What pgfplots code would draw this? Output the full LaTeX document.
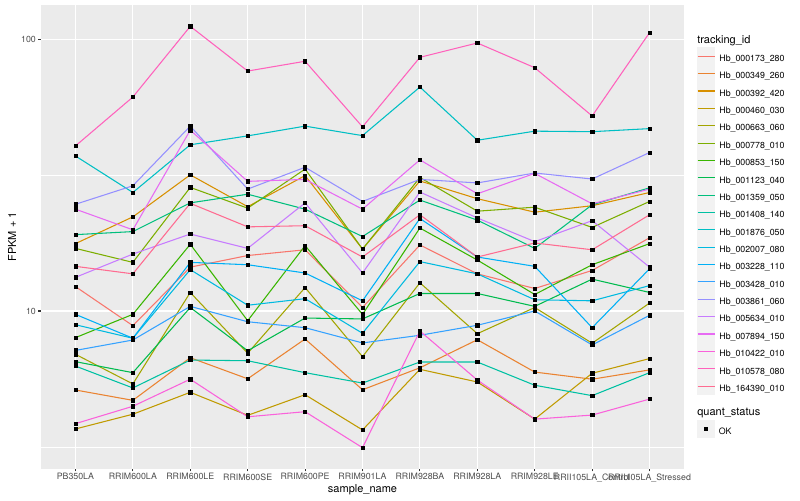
\documentclass[border=0pt]{standalone}
\usepackage{fontspec}
\setmainfont{TeX Gyre Heros}
\usepackage{pgfplots}
\usepackage{pgfplotstable}
\pgfplotsset{compat=1.18}
\definecolor{panelbg}{HTML}{EBEBEB}
\definecolor{keybg}{HTML}{F2F2F2}
\definecolor{tickgray}{HTML}{333333}
\definecolor{labgray}{HTML}{4D4D4D}
\definecolor{c1}{HTML}{F8766D}
\definecolor{c2}{HTML}{EA8331}
\definecolor{c3}{HTML}{D89000}
\definecolor{c4}{HTML}{C09B00}
\definecolor{c5}{HTML}{A3A500}
\definecolor{c6}{HTML}{7CAE00}
\definecolor{c7}{HTML}{39B600}
\definecolor{c8}{HTML}{00BB4E}
\definecolor{c9}{HTML}{00BF7D}
\definecolor{c10}{HTML}{00C1A3}
\definecolor{c11}{HTML}{00BFC4}
\definecolor{c12}{HTML}{00BAE0}
\definecolor{c13}{HTML}{00B0F6}
\definecolor{c14}{HTML}{35A2FF}
\definecolor{c15}{HTML}{9590FF}
\definecolor{c16}{HTML}{C77CFF}
\definecolor{c17}{HTML}{E76BF3}
\definecolor{c18}{HTML}{FA62DB}
\definecolor{c19}{HTML}{FF62BC}
\definecolor{c20}{HTML}{FF6C91}

\pgfplotstableread{
x s1 s2 s3 s4 s5 s6 s7 s8 s9 s10 s11 s12 s13 s14 s15 s16 s17 s18 s19 s20
0 12.3 5.12 17.7 3.68 6.93 17.0 7.98 6.51 19.1 6.27 37.2 8.90 9.72 7.16 24.7 13.3 23.7 3.85 40.5 14.6
1 8.83 4.69 22.2 4.17 5.39 15.1 9.72 5.93 19.6 5.21 27.3 7.94 7.94 7.82 28.9 16.2 19.9 4.46 61.3 13.7
2 14.5 6.73 31.7 5.02 11.7 28.5 17.6 10.3 25.0 6.60 40.9 14.2 15.1 10.4 47.9 19.2 46.3 5.61 111.6 24.9
3 16.0 5.63 24.2 4.13 6.99 23.9 9.21 7.14 26.9 6.56 44.1 10.5 14.8 9.13 28.1 17.0 30.0 4.08 76.4 20.4
4 16.8 7.89 31.5 4.92 12.2 33.3 17.4 9.42 23.7 5.93 47.9 11.1 13.8 8.68 33.8 25.0 30.5 4.26 83.0 20.6
5 10.3 5.13 16.9 3.65 6.79 16.9 9.72 9.35 18.8 5.43 44.2 8.28 10.9 7.63 25.3 13.8 23.7 3.14 47.6 15.8
6 17.5 6.18 30.1 6.10 12.7 31.0 20.2 11.6 25.6 6.49 66.7 15.2 21.9 8.14 30.5 27.4 36.0 8.44 85.8 22.6
7 13.7 7.84 25.9 5.48 8.25 23.3 15.4 11.6 21.6 6.49 42.5 13.7 15.8 8.86 29.6 22.0 27.0 5.57 96.9 15.8
8 12.1 5.96 23.1 4.00 10.3 24.1 11.5 10.4 17.0 5.33 45.9 11.0 14.6 10.0 32.2 18.0 32.1 4.00 78.6 17.8
9 14.1 5.61 24.4 5.90 7.61 20.3 14.8 13.1 24.6 4.88 45.7 10.9 8.68 7.50 30.6 21.5 24.8 4.14 52.2 16.8
10 18.6 6.07 27.3 6.68 10.7 25.3 17.7 11.7 28.4 5.93 46.9 12.4 14.3 9.64 38.3 14.5 28.1 4.74 105.8 22.6
}\data

\newcommand{\ticksize}{\fontsize{6.6}{7.9}\selectfont}
\newcommand{\titlesize}{\fontsize{8.25}{9.9}\selectfont}

\begin{document}
\begin{tikzpicture}
\useasboundingbox (-30.75pt,-23.475pt) rectangle (569.25pt,351.525pt);
\begin{axis}[
  at={(0pt,0pt)}, anchor=south west,
  scale only axis, width=482.25pt, height=347.775pt,
  ymode=log,
  xmin=-0.6, xmax=10.6, ymin=2.628, ymax=133.7,
  axis background/.style={fill=panelbg},
  axis line style={draw=none},
  xtick={0,...,10},
  xticklabels={PB350LA,RRIM600LA,RRIM600LE,RRIM600SE,RRIM600PE,RRIM901LA,RRIM928BA,RRIM928LA,RRIM928LE,RRII105LA\_Control,RRII105LA\_Stressed},
  ytick={10,100}, yticklabels={10,100},
  minor ytick={3.1623,31.623},
  minor tick length=0pt,
  xmajorgrids, ymajorgrids, yminorgrids,
  major grid style={white, line width=0.8pt},
  minor grid style={white, line width=0.4pt},
  tick align=outside, major tick length=2.06pt,
  xtick pos=bottom, ytick pos=left,
  tick style={tickgray, line width=0.8pt},
  /pgf/number format/assume math mode=true,
  xticklabel style={font=\ticksize, text=labgray, inner sep=0pt, yshift=-1.4pt},
  yticklabel style={font=\ticksize, text=labgray, inner sep=0pt, xshift=-1.6pt},
  xlabel={sample\_name}, ylabel={FPKM + 1},
  label style={font=\titlesize, text=black},
  xlabel style={at={(axis description cs:0.5,-0.0459)}, anchor=center},
  ylabel style={at={(axis description cs:-0.0451,0.5)}, anchor=center},
  legend style={draw=none, fill=none, inner sep=0pt, outer sep=0pt,
    at={(axis description cs:1.0202,0.9087)}, anchor=north west,
    row sep=-0.38pt, column sep=2pt,
    nodes={inner sep=1pt, text=black, font=\ticksize}},
  legend cell align=left,
  legend image code/.code={
    \fill[keybg] (0pt,-4.0pt) rectangle (13pt,8.6pt);
    \draw[#1] (0pt,2.3pt) -- (13pt,2.3pt);
  },
]
\pgfplotsinvokeforeach{1,...,20}{
  \addplot[color=c#1, line width=0.8pt, mark=none] table[x=x,y=s#1]{\data};
}
\legend{Hb\_000173\_280,Hb\_000349\_260,Hb\_000392\_420,Hb\_000460\_030,Hb\_000663\_060,Hb\_000778\_010,Hb\_000853\_150,Hb\_001123\_040,Hb\_001359\_050,Hb\_001408\_140,Hb\_001876\_050,Hb\_002007\_080,Hb\_003228\_110,Hb\_003428\_010,Hb\_003861\_060,Hb\_005634\_010,Hb\_007894\_150,Hb\_010422\_010,Hb\_010578\_080,Hb\_164390\_010}
\pgfplotsinvokeforeach{1,...,20}{
  \addplot[forget plot, only marks, mark=square*, mark size=1.25pt, black] table[x=x,y=s#1]{\data};
}
\end{axis}
\begin{axis}[
  at={(0pt,0pt)}, anchor=south west,
  scale only axis, width=482.25pt, height=347.775pt,
  xmin=0, xmax=1, ymin=0, ymax=1, hide axis,
  legend style={draw=none, fill=none, inner sep=0pt, outer sep=0pt,
    at={(axis description cs:1.0202,0.1043)}, anchor=north west,
    column sep=2pt,
    nodes={inner sep=1pt, text=black, font=\ticksize}},
  legend cell align=left,
]
\addlegendimage{legend image code/.code={
    \fill[keybg] (0pt,-4.0pt) rectangle (13pt,8.6pt);
    \fill[black] (5.2pt,1.0pt) rectangle (7.8pt,3.6pt);
  }}
\addlegendentry{OK}
\end{axis}
\node[anchor=west, inner sep=0pt, font=\titlesize] at (492pt,321pt) {tracking\_id};
\node[anchor=west, inner sep=0pt, font=\titlesize] at (492pt,42pt) {quant\_status};
\end{tikzpicture}
\end{document}
